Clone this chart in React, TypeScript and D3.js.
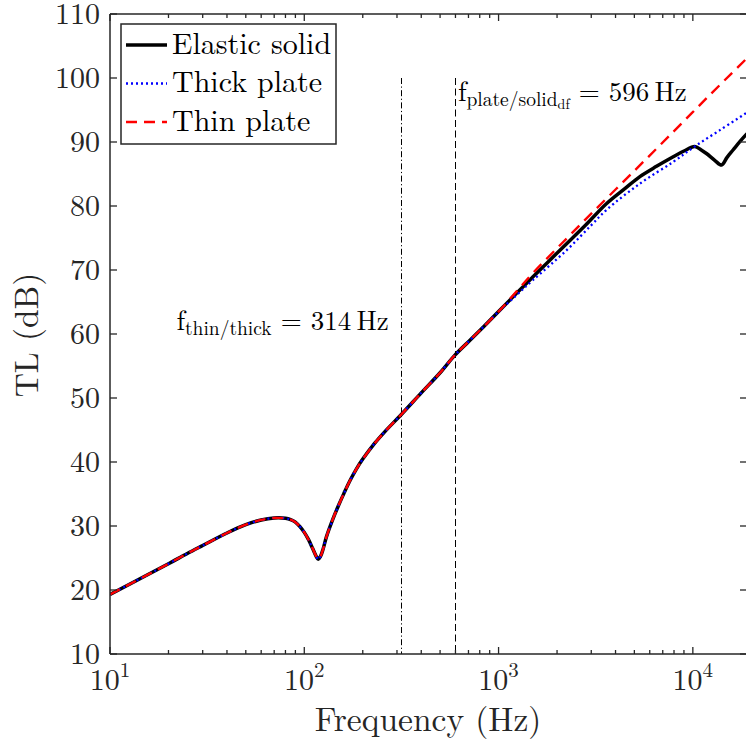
import React from "react";
import * as d3 from "d3";

// ---- data ----
const COMMON_FREQ = [10, 15, 20, 25, 30, 40, 50, 60, 70, 80, 85, 90, 95, 100, 105, 110, 115, 118, 121, 125, 130, 140, 150, 160, 172, 185, 200, 230, 260, 314, 400, 500, 596, 700, 835, 1000];
const COMMON_TL = [19.3, 22.1, 24.1, 25.7, 26.95, 28.9, 30.2, 30.95, 31.25, 31.2, 31.0, 30.6, 29.9, 29.0, 27.9, 26.6, 25.3, 24.8, 25.2, 26.4, 28.3, 31.0, 33.2, 35.1, 37.1, 38.85, 40.45, 42.9, 44.75, 47.35, 50.8, 53.95, 56.7, 58.8, 61.1, 63.5];

const SOLID_FREQ = [1240, 1500, 2070, 2800, 3600, 4500, 5340, 6500, 7925, 9000, 10230, 11000, 11750, 13000, 14050, 15000, 16100, 17500, 19000];
const SOLID_TL = [66.4, 68.9, 73.1, 77.0, 80.4, 82.8, 84.6, 86.2, 87.7, 88.6, 89.3, 88.8, 88.2, 87.1, 86.4, 87.6, 88.75, 90.1, 91.3];

const THICK_FREQ = [1240, 1500, 2242, 3000, 3597, 5340, 7925, 10230, 13770, 19000];
const THICK_TL = [66.1, 68.4, 73.1, 77.0, 79.4, 83.5, 86.9, 89.3, 91.85, 94.6];

const THIN_FREQ = [1250, 1500, 2000, 3000, 5000, 8000, 12000, 19000];
const THIN_TL = [66.8, 69.5, 73.4, 78.8, 85.5, 91.7, 97.1, 103.1];

const SERIES_NAMES = ["Elastic solid", "Thick plate", "Thin plate"];
const F_THIN_THICK = 314;
const F_PLATE_SOLID = 596;
const MARKER_TOP = 100;

const Y_TICKS = [10, 20, 30, 40, 50, 60, 70, 80, 90, 100, 110];
const X_MAJOR = [10, 100, 1000, 10000];
const X_MAJOR_EXP = ["1", "2", "3", "4"];
const X_MINOR = [20, 30, 40, 50, 60, 70, 80, 90, 200, 300, 400, 500, 600, 700, 800, 900, 2000, 3000, 4000, 5000, 6000, 7000, 8000, 9000];
const X_DOMAIN = [10, 19000];
const Y_DOMAIN = [10, 110];

// ---- layout ----
const W = 746, H = 742;
const L = 110, R = 747, T = 14, B = 654;
const AX = "#262626";
const FONT = '"Latin Modern Roman", "Liberation Serif", serif';

function mk(fs: number[], ts: number[]) {
  return fs.map((f, i) => ({ f, t: ts[i] }));
}

export default function App() {
  const x = d3.scaleLog().domain(X_DOMAIN).range([L, R]);
  const y = d3.scaleLinear().domain(Y_DOMAIN).range([B, T]);
  const line = d3
    .line<{ f: number; t: number }>()
    .x((d) => x(d.f))
    .y((d) => y(d.t))
    .curve(d3.curveCatmullRom.alpha(0.5));

  const common = mk(COMMON_FREQ, COMMON_TL);
  const solid = common.concat(mk(SOLID_FREQ, SOLID_TL));
  const thick = common.concat(mk(THICK_FREQ, THICK_TL));
  const thin = common.concat(mk(THIN_FREQ, THIN_TL));

  const styles = [
    { stroke: "#000000", width: 3.5, dash: undefined as string | undefined },
    { stroke: "#0000ff", width: 2.3, dash: "2,3" },
    { stroke: "#ff0000", width: 2.4, dash: "11,7" },
  ];

  const ff = { fontFamily: FONT };
  const snap = (v: number) => Math.round(v) + 0.5;

  return (
    <div style={{ position: "absolute", left: 0, top: 0 }}>
      <svg width={W} height={H} style={{ display: "block", background: "#fff", fontFamily: FONT }}>
        <defs>
          <clipPath id="plotclip">
            <rect x={L} y={T} width={R - L} height={B - T} />
          </clipPath>
        </defs>
        <rect x={0} y={0} width={W} height={H} fill="#fff" />

        {/* marker lines */}
        <line x1={snap(x(F_THIN_THICK))} x2={snap(x(F_THIN_THICK))} y1={y(MARKER_TOP)} y2={y(10)} stroke="#000" strokeWidth={1} strokeDasharray="6,2.5,1.2,2.5" />
        <line x1={snap(x(F_PLATE_SOLID))} x2={snap(x(F_PLATE_SOLID))} y1={y(MARKER_TOP)} y2={y(10)} stroke="#000" strokeWidth={1} strokeDasharray="7,3.5" />

        {/* curves */}
        <g clipPath="url(#plotclip)">
          {[solid, thick, thin].map((data, i) => (
            <path key={i} d={line(data) || ""} fill="none" stroke={styles[i].stroke} strokeWidth={styles[i].width} strokeDasharray={styles[i].dash} strokeLinejoin="round" />
          ))}
        </g>

        {/* annotations */}
        <text x={x(F_THIN_THICK) - 12} y={y(60.55)} textAnchor="end" fill="#000" style={ff}>
          <tspan fontSize={28}>f</tspan>
          <tspan fontSize={19.5} dy={5}>thin/thick</tspan>
          <tspan fontSize={27} dy={-5}>{" = 314\u2009Hz"}</tspan>
        </text>
        <text x={x(F_PLATE_SOLID) + 3} y={y(96.4)} textAnchor="start" fill="#000" style={ff}>
          <tspan fontSize={28}>f</tspan>
          <tspan fontSize={19.5} dy={5}>plate/solid</tspan>
          <tspan fontSize={14} dy={3}>df</tspan>
          <tspan fontSize={27} dy={-8}>{" = 596\u2009Hz"}</tspan>
        </text>

        {/* axes box */}
        <g stroke={AX} strokeWidth={1.5} fill="none">
          <line x1={L} x2={R} y1={B} y2={B} />
          <line x1={L} x2={R} y1={T} y2={T} />
          <line x1={L} x2={L} y1={T} y2={B} />
          <line x1={R} x2={R} y1={T} y2={B} />
        </g>
        {/* ticks */}
        <g stroke={AX} strokeWidth={1.3}>
          {Y_TICKS.map((v) => (
            <g key={v}>
              <line x1={L} x2={L + 7} y1={y(v)} y2={y(v)} />
              <line x1={R} x2={R - 7} y1={y(v)} y2={y(v)} />
            </g>
          ))}
          {X_MAJOR.map((v) => (
            <g key={v}>
              <line x1={x(v)} x2={x(v)} y1={B} y2={B - 7} />
              <line x1={x(v)} x2={x(v)} y1={T} y2={T + 7} />
            </g>
          ))}
          {X_MINOR.map((v) => (
            <g key={v}>
              <line x1={x(v)} x2={x(v)} y1={B} y2={B - 4} />
              <line x1={x(v)} x2={x(v)} y1={T} y2={T + 4} />
            </g>
          ))}
        </g>
        {Y_TICKS.map((v) => (
          <text key={v} x={L - 10} y={y(v) + 10} textAnchor="end" fontSize={30} fill={AX} style={ff}>
            {v}
          </text>
        ))}
        {X_MAJOR.map((v, i) => (
          <text key={v} x={x(v)} y={690} textAnchor="middle" fill={AX} style={ff}>
            <tspan fontSize={30}>10</tspan>
            <tspan fontSize={21} dy={-13}>{X_MAJOR_EXP[i]}</tspan>
          </text>
        ))}
        <text x={428} y={731} textAnchor="middle" fontSize={33.5} fill={AX} style={ff}>
          Frequency (Hz)
        </text>
        <text transform={`translate(38,335) rotate(-90)`} textAnchor="middle" fontSize={33.5} fill={AX} style={ff}>
          TL (dB)
        </text>

        {/* legend */}
        <g>
          <rect x={121} y={24} width={215} height={120} fill="#fff" stroke={AX} strokeWidth={1.5} />
          {SERIES_NAMES.map((name, i) => {
            const cy = 45 + i * 38.5;
            return (
              <g key={name}>
                <line x1={126} x2={167} y1={cy} y2={cy} stroke={styles[i].stroke} strokeWidth={styles[i].width} strokeDasharray={styles[i].dash} />
                <text x={172} y={cy + 8.5} fontSize={30} fill="#000" style={ff}>
                  {name}
                </text>
              </g>
            );
          })}
        </g>
      </svg>
    </div>
  );
}
